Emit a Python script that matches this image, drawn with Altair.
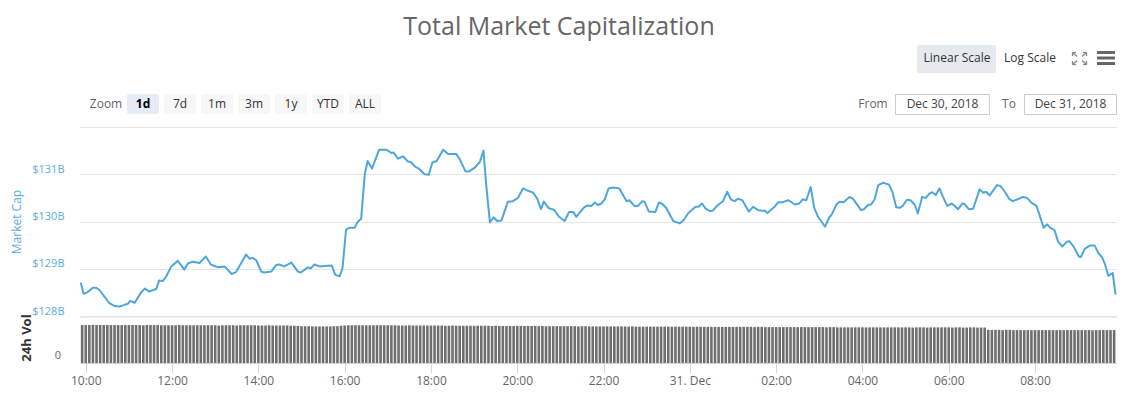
import altair as alt
import pandas as pd

# ---------------- data ----------------
TITLE = "Total Market Capitalization"

LINE_TIME = [
    "2018-12-30T09:53", "2018-12-30T09:57", "2018-12-30T10:02", "2018-12-30T10:10", "2018-12-30T10:14",
    "2018-12-30T10:19", "2018-12-30T10:26", "2018-12-30T10:33", "2018-12-30T10:40", "2018-12-30T10:47",
    "2018-12-30T10:51", "2018-12-30T10:56", "2018-12-30T10:58", "2018-12-30T11:02", "2018-12-30T11:08",
    "2018-12-30T11:17", "2018-12-30T11:22", "2018-12-30T11:28", "2018-12-30T11:38", "2018-12-30T11:42",
    "2018-12-30T11:47", "2018-12-30T11:52", "2018-12-30T11:59", "2018-12-30T12:08", "2018-12-30T12:17",
    "2018-12-30T12:22", "2018-12-30T12:29", "2018-12-30T12:38", "2018-12-30T12:47", "2018-12-30T12:54",
    "2018-12-30T13:04", "2018-12-30T13:13", "2018-12-30T13:23", "2018-12-30T13:29", "2018-12-30T13:43",
    "2018-12-30T13:48", "2018-12-30T13:52", "2018-12-30T13:57", "2018-12-30T14:04", "2018-12-30T14:08",
    "2018-12-30T14:18", "2018-12-30T14:25", "2018-12-30T14:29", "2018-12-30T14:36", "2018-12-30T14:46",
    "2018-12-30T14:55", "2018-12-30T14:59", "2018-12-30T15:09", "2018-12-30T15:13", "2018-12-30T15:18",
    "2018-12-30T15:25", "2018-12-30T15:32", "2018-12-30T15:42", "2018-12-30T15:47", "2018-12-30T15:53",
    "2018-12-30T15:57", "2018-12-30T16:02", "2018-12-30T16:07", "2018-12-30T16:14", "2018-12-30T16:18",
    "2018-12-30T16:23", "2018-12-30T16:28", "2018-12-30T16:32", "2018-12-30T16:38", "2018-12-30T16:48",
    "2018-12-30T16:58", "2018-12-30T17:05", "2018-12-30T17:08", "2018-12-30T17:14", "2018-12-30T17:21",
    "2018-12-30T17:28", "2018-12-30T17:32", "2018-12-30T17:38", "2018-12-30T17:43", "2018-12-30T17:51",
    "2018-12-30T17:57", "2018-12-30T18:02", "2018-12-30T18:08", "2018-12-30T18:17", "2018-12-30T18:24",
    "2018-12-30T18:35", "2018-12-30T18:40", "2018-12-30T18:48", "2018-12-30T18:53", "2018-12-30T19:01",
    "2018-12-30T19:08", "2018-12-30T19:13", "2018-12-30T19:17", "2018-12-30T19:22", "2018-12-30T19:27",
    "2018-12-30T19:32", "2018-12-30T19:38", "2018-12-30T19:47", "2018-12-30T19:54", "2018-12-30T20:01",
    "2018-12-30T20:08", "2018-12-30T20:15", "2018-12-30T20:22", "2018-12-30T20:28", "2018-12-30T20:33",
    "2018-12-30T20:37", "2018-12-30T20:44", "2018-12-30T20:51", "2018-12-30T20:58", "2018-12-30T21:06",
    "2018-12-30T21:12", "2018-12-30T21:18", "2018-12-30T21:22", "2018-12-30T21:33", "2018-12-30T21:38",
    "2018-12-30T21:43", "2018-12-30T21:48", "2018-12-30T21:52", "2018-12-30T21:57", "2018-12-30T22:02",
    "2018-12-30T22:07", "2018-12-30T22:13", "2018-12-30T22:22", "2018-12-30T22:32", "2018-12-30T22:36",
    "2018-12-30T22:43", "2018-12-30T22:48", "2018-12-30T22:54", "2018-12-30T22:57", "2018-12-30T23:03",
    "2018-12-30T23:12", "2018-12-30T23:17", "2018-12-30T23:21", "2018-12-30T23:27", "2018-12-30T23:37",
    "2018-12-30T23:46", "2018-12-30T23:51", "2018-12-30T23:58", "2018-12-31T00:08", "2018-12-31T00:12",
    "2018-12-31T00:17", "2018-12-31T00:22", "2018-12-31T00:28", "2018-12-31T00:32", "2018-12-31T00:39",
    "2018-12-31T00:46", "2018-12-31T00:52", "2018-12-31T00:57", "2018-12-31T01:02", "2018-12-31T01:07",
    "2018-12-31T01:13", "2018-12-31T01:22", "2018-12-31T01:28", "2018-12-31T01:35", "2018-12-31T01:40",
    "2018-12-31T01:44", "2018-12-31T01:48", "2018-12-31T01:51", "2018-12-31T01:57", "2018-12-31T02:03",
    "2018-12-31T02:07", "2018-12-31T02:17", "2018-12-31T02:26", "2018-12-31T02:32", "2018-12-31T02:37",
    "2018-12-31T02:42", "2018-12-31T02:48", "2018-12-31T02:53", "2018-12-31T02:58", "2018-12-31T03:08",
    "2018-12-31T03:14", "2018-12-31T03:17", "2018-12-31T03:24", "2018-12-31T03:28", "2018-12-31T03:34",
    "2018-12-31T03:42", "2018-12-31T03:47", "2018-12-31T03:58", "2018-12-31T04:02", "2018-12-31T04:08",
    "2018-12-31T04:12", "2018-12-31T04:17", "2018-12-31T04:22", "2018-12-31T04:29", "2018-12-31T04:37",
    "2018-12-31T04:42", "2018-12-31T04:47", "2018-12-31T04:52", "2018-12-31T04:56", "2018-12-31T05:02",
    "2018-12-31T05:07", "2018-12-31T05:13", "2018-12-31T05:17", "2018-12-31T05:23", "2018-12-31T05:28",
    "2018-12-31T05:33", "2018-12-31T05:37", "2018-12-31T05:42", "2018-12-31T05:47", "2018-12-31T05:52",
    "2018-12-31T05:58", "2018-12-31T06:04", "2018-12-31T06:07", "2018-12-31T06:13", "2018-12-31T06:19",
    "2018-12-31T06:22", "2018-12-31T06:28", "2018-12-31T06:34", "2018-12-31T06:43", "2018-12-31T06:48",
    "2018-12-31T06:52", "2018-12-31T06:57", "2018-12-31T07:07", "2018-12-31T07:12", "2018-12-31T07:18",
    "2018-12-31T07:24", "2018-12-31T07:29", "2018-12-31T07:36", "2018-12-31T07:43", "2018-12-31T07:49",
    "2018-12-31T07:55", "2018-12-31T08:02", "2018-12-31T08:06", "2018-12-31T08:12", "2018-12-31T08:17",
    "2018-12-31T08:21", "2018-12-31T08:27", "2018-12-31T08:32", "2018-12-31T08:38", "2018-12-31T08:44",
    "2018-12-31T08:48", "2018-12-31T08:54", "2018-12-31T09:01", "2018-12-31T09:04", "2018-12-31T09:09",
    "2018-12-31T09:16", "2018-12-31T09:23", "2018-12-31T09:28", "2018-12-31T09:33", "2018-12-31T09:37",
    "2018-12-31T09:42", "2018-12-31T09:48", "2018-12-31T09:52",
]

# total market cap, billions of USD
LINE_CAP = [
    128.71, 128.47, 128.50, 128.60, 128.60, 128.55, 128.41, 128.27, 128.21, 128.20,
    128.22, 128.25, 128.25, 128.32, 128.28, 128.50, 128.58, 128.52, 128.57, 128.75,
    128.74, 128.84, 129.05, 129.17, 128.98, 129.11, 129.15, 129.12, 129.26, 129.09,
    129.03, 129.05, 128.89, 128.93, 129.30, 129.21, 129.23, 129.18, 128.94, 128.92,
    128.94, 129.08, 129.09, 129.05, 129.13, 128.94, 128.92, 129.03, 129.01, 129.09,
    129.05, 129.06, 129.07, 128.87, 128.84, 129.01, 129.83, 129.87, 129.87, 129.99,
    130.06, 131.00, 131.28, 131.12, 131.52, 131.52, 131.45, 131.46, 131.33, 131.38,
    131.27, 131.26, 131.16, 131.12, 131.00, 130.99, 131.25, 131.28, 131.52, 131.43,
    131.43, 131.32, 131.06, 131.06, 131.14, 131.26, 131.50, 130.75, 129.98, 130.09,
    130.01, 130.02, 130.42, 130.43, 130.50, 130.70, 130.65, 130.61, 130.48, 130.26,
    130.42, 130.28, 130.25, 130.10, 130.01, 130.20, 130.20, 130.10, 130.30, 130.34,
    130.33, 130.40, 130.35, 130.38, 130.48, 130.70, 130.72, 130.70, 130.43, 130.45,
    130.33, 130.33, 130.43, 130.42, 130.21, 130.20, 130.40, 130.38, 130.29, 130.01,
    129.96, 130.02, 130.18, 130.31, 130.31, 130.38, 130.27, 130.22, 130.23, 130.35,
    130.43, 130.63, 130.47, 130.43, 130.48, 130.45, 130.21, 130.31, 130.24, 130.23,
    130.23, 130.18, 130.22, 130.30, 130.41, 130.40, 130.45, 130.36, 130.38, 130.47,
    130.45, 130.73, 130.29, 130.11, 129.89, 130.09, 130.14, 130.36, 130.42, 130.41,
    130.52, 130.48, 130.24, 130.26, 130.35, 130.36, 130.47, 130.77, 130.82, 130.78,
    130.61, 130.30, 130.29, 130.33, 130.46, 130.45, 130.35, 130.17, 130.52, 130.50,
    130.59, 130.62, 130.56, 130.70, 130.52, 130.33, 130.38, 130.35, 130.26, 130.38,
    130.37, 130.26, 130.27, 130.68, 130.61, 130.63, 130.55, 130.77, 130.75, 130.63,
    130.48, 130.43, 130.47, 130.52, 130.50, 130.40, 130.33, 130.15, 129.87, 129.94,
    129.87, 129.82, 129.58, 129.47, 129.57, 129.58, 129.46, 129.26, 129.25, 129.42,
    129.49, 129.49, 129.33, 129.25, 129.11, 128.85, 128.91, 128.45,
]

# 24h volume bars, one every 5 minutes from 09:55 (billions, relative)
VOL_START = "2018-12-30T09:55"
VOL_24H = [
    16.5, 16.5, 16.5, 16.6, 16.5, 16.5, 16.5, 16.5, 16.5, 16.5, 16.5, 16.5,
    16.5, 16.5, 16.5, 16.5, 16.5, 16.4, 16.5, 16.5, 16.5, 16.5, 16.4, 16.4,
    16.4, 16.4, 16.4, 16.5, 16.4, 16.4, 16.4, 16.4, 16.4, 16.4, 16.4, 16.4,
    16.4, 16.4, 16.3, 16.4, 16.4, 16.4, 16.4, 16.3, 16.4, 16.4, 16.4, 16.4,
    16.4, 16.3, 16.3, 16.3, 16.4, 16.3, 16.3, 16.3, 16.3, 16.3, 16.2, 16.2,
    16.1, 16.0, 16.0, 16.0, 15.9, 15.9, 15.9, 15.9, 15.9, 15.9, 16.0, 16.0,
    16.2, 16.3, 16.4, 16.4, 16.4, 16.4, 16.4, 16.4, 16.4, 16.4, 16.4, 16.4,
    16.4, 16.4, 16.4, 16.4, 16.3, 16.3, 16.3, 16.4, 16.3, 16.3, 16.3, 16.3,
    16.3, 16.3, 16.3, 16.3, 16.3, 16.2, 16.2, 16.3, 16.2, 16.2, 16.2, 16.2,
    16.2, 16.2, 16.2, 16.2, 16.2, 16.2, 16.1, 16.2, 16.1, 16.1, 16.1, 16.1,
    16.1, 16.1, 16.1, 16.1, 16.1, 16.1, 16.1, 16.0, 16.1, 16.0, 16.0, 16.0,
    16.0, 16.0, 16.0, 16.0, 16.0, 16.0, 15.9, 16.0, 16.0, 15.9, 15.9, 15.9,
    15.9, 15.9, 15.9, 15.9, 15.9, 15.9, 15.9, 15.9, 15.8, 15.9, 15.8, 15.8,
    15.8, 15.8, 15.8, 15.8, 15.8, 15.8, 15.8, 15.8, 15.8, 15.8, 15.8, 15.8,
    15.8, 15.8, 15.7, 15.8, 15.7, 15.7, 15.7, 15.7, 15.7, 15.7, 15.7, 15.7,
    15.7, 15.7, 15.7, 15.7, 15.7, 15.7, 15.7, 15.6, 15.7, 15.7, 15.6, 15.6,
    15.6, 15.6, 15.6, 15.6, 15.6, 15.6, 15.6, 15.6, 15.6, 15.6, 15.6, 15.6,
    15.6, 15.6, 15.6, 15.5, 15.6, 15.6, 15.5, 15.5, 15.5, 15.5, 15.5, 15.5,
    15.5, 15.5, 15.5, 15.5, 15.5, 15.5, 15.5, 15.5, 15.5, 15.5, 15.5, 15.5,
    15.5, 15.5, 15.5, 15.4, 15.5, 15.5, 15.5, 15.4, 15.5, 15.5, 15.5, 15.5,
    15.5, 15.5, 15.4, 15.5, 15.5, 15.4, 15.4, 15.5, 15.5, 15.4, 15.4, 15.4,
    14.4, 14.4, 14.4, 14.4, 14.3, 14.4, 14.4, 14.3, 14.3, 14.3, 14.3, 14.3,
    14.3, 14.3, 14.3, 14.3, 14.3, 14.3, 14.3, 14.3, 14.3, 14.3, 14.3, 14.3,
    14.3, 14.3, 14.3, 14.3, 14.3, 14.2, 14.3, 14.3, 14.3, 14.3, 14.3, 14.3,
]

X_TICKS = [
    "2018-12-30T10:00", "2018-12-30T12:00", "2018-12-30T14:00", "2018-12-30T16:00",
    "2018-12-30T18:00", "2018-12-30T20:00", "2018-12-30T22:00", "2018-12-31T00:00",
    "2018-12-31T02:00", "2018-12-31T04:00", "2018-12-31T06:00", "2018-12-31T08:00",
]
X_DOMAIN = ["2018-12-30T09:52", "2018-12-31T09:54"]
Y_TICKS = [128, 129, 130, 131, 132]
Y_DOMAIN = [128, 132]
VOL_DOMAIN = [0, 20]

ZOOM_LABEL = "Zoom"
ZOOM_BUTTONS = ["1d", "7d", "1m", "3m", "1y", "YTD", "ALL"]
SCALE_BUTTONS = ["Linear Scale", "Log Scale"]
FROM_LABEL, TO_LABEL = "From", "To"
FROM_DATE, TO_DATE = "Dec 30, 2018", "Dec 31, 2018"
Y_TITLE = "Market Cap"
VOL_TITLE = "24h Vol"

# ---------------- styling / layout ----------------
FONT = "Open Sans"
BLUE_LINE = "#4ea6db"
BLUE_TEXT = "#5aabdf"
GRID = "#e6e6e6"
W, H = 1037, 236
PAD = {"left": 72, "top": 119, "right": 0, "bottom": 25}
PRICE_RANGE = [189, 0]
VOL_RANGE = [236, 190]


def dt(s):
    t = pd.Timestamp(s)
    return alt.DateTime(year=t.year, month=t.month, date=t.day, hours=t.hour, minutes=t.minute)


line_df = pd.DataFrame({"t": LINE_TIME, "cap": LINE_CAP})
vol_df = pd.DataFrame({
    "t": pd.date_range(VOL_START, periods=len(VOL_24H), freq="5min").strftime("%Y-%m-%dT%H:%M:%S"),
    "vol": VOL_24H,
})

xscale = alt.Scale(domain=[dt(s) for s in X_DOMAIN], padding=0)
xaxis = alt.Axis(
    values=[dt(s) for s in X_TICKS],
    labelExpr="hours(datum.value) == 0 ? timeFormat(datum.value, '%d. %b') : timeFormat(datum.value, '%H:%M')",
    title=None, grid=False, domainColor="#ccd6eb", tickColor="#ccd6eb", tickSize=10,
    labelColor="#666666", labelFont=FONT, labelFontSize=12, labelPadding=2,
    labelFlush=False, labelOverlap=False,
)

price = alt.Chart(line_df).mark_line(color=BLUE_LINE, strokeWidth=2, strokeJoin="round").encode(
    x=alt.X("t:T", scale=xscale, axis=xaxis),
    y=alt.Y(
        "cap:Q",
        scale=alt.Scale(domain=Y_DOMAIN, range=PRICE_RANGE, zero=False, nice=False),
        axis=alt.Axis(
            values=Y_TICKS,
            labelExpr="datum.value >= 132 ? '' : '$' + datum.value + 'B'",
            grid=True, gridColor=GRID, domain=False, ticks=False,
            labelColor=BLUE_TEXT, labelFont=FONT, labelFontSize=11, labelPadding=16,
            labelBaseline="alphabetic", labelOffset=-2, labelFlush=False, labelOverlap=False,
            title=Y_TITLE, titleColor=BLUE_TEXT, titleFont=FONT, titleFontSize=12,
            titleFontWeight="normal", titleX=-64, titleY=94.5, titleAngle=270,
            titleAlign="center", titleBaseline="middle",
        ),
    ),
)

vol = alt.Chart(vol_df).mark_bar(size=2.6, color="#6e6e6e").encode(
    x=alt.X("t:T", scale=xscale),
    y=alt.Y("vol:Q", scale=alt.Scale(domain=VOL_DOMAIN, range=VOL_RANGE, nice=False), axis=None),
)

one = pd.DataFrame({"k": [0]})


def text(s, x, y, size=12, color="#333333", weight="normal", align="center", angle=0, baseline="middle"):
    return alt.Chart(one).mark_text(
        text=s, font=FONT, fontSize=size, color=color, fontWeight=weight,
        align=align, baseline=baseline, angle=angle,
    ).encode(x=alt.value(x), y=alt.value(y))


def rect(x0, x1, y0, y1, fill, stroke=None, radius=0):
    kw = dict(color=fill, cornerRadius=radius)
    if stroke:
        kw.update(stroke=stroke, strokeWidth=1)
    return alt.Chart(one).mark_rect(**kw).encode(
        x=alt.value(x0), x2=alt.value(x1), y=alt.value(y0), y2=alt.value(y1))


def seg(x0, y0, x1, y1, color, width):
    return alt.Chart(one).mark_rule(color=color, strokeWidth=width, strokeCap="butt").encode(
        x=alt.value(x0), x2=alt.value(x1), y=alt.value(y0), y2=alt.value(y1))


deco = []
# title
deco.append(text(TITLE, 479, -92, size=25, color="#666666", baseline="alphabetic"))
# linear / log scale buttons
deco.append(rect(837, 916, -82, -54, "#e6e9ee", radius=2))
deco.append(text(SCALE_BUTTONS[0], 877, -69))
deco.append(text(SCALE_BUTTONS[1], 950, -69))
# fullscreen icon
cx, cy = 999.5, -68.5
for sx, sy in [(-1, -1), (1, -1), (-1, 1), (1, 1)]:
    tx, ty = cx + 7 * sx, cy + 6 * sy
    deco.append(seg(cx + 2.5 * sx, cy + 2 * sy, tx, ty, "#888888", 1.3))
    deco.append(seg(tx, ty, tx - 3.5 * sx, ty, "#888888", 1.3))
    deco.append(seg(tx, ty, tx, ty - 3.5 * sy, "#888888", 1.3))
# hamburger menu
for yy in [-74.5, -69, -63.5]:
    deco.append(seg(1017, yy, 1035, yy, "#666666", 3))
# zoom row
deco.append(text(ZOOM_LABEL, 26, -23, color="#666666"))
for i, lab in enumerate(ZOOM_BUTTONS):
    x0 = 47 + 37 * i
    sel = i == 0
    deco.append(rect(x0, x0 + 32, -33, -13, "#e6ebf5" if sel else "#f7f7f7", radius=2))
    deco.append(text(lab, x0 + 16, -23, color="#000000" if sel else "#333333",
                     weight="bold" if sel else "normal"))
# from / to
deco.append(text(FROM_LABEL, 793, -23, color="#666666"))
deco.append(rect(815.5, 909.5, -32.5, -12.5, "#ffffff", stroke="#cccccc"))
deco.append(text(FROM_DATE, 862.5, -23, color="#444444"))
deco.append(text(TO_LABEL, 929, -23, color="#666666"))
deco.append(rect(944.5, 1036.5, -32.5, -12.5, "#ffffff", stroke="#cccccc"))
deco.append(text(TO_DATE, 990.5, -23, color="#444444"))
# volume panel top line, label and title
deco.append(seg(0, 190, W, 190, GRID, 1.5))
deco.append(text("0", -19, 229, size=11, color="#666666", align="right"))
deco.append(text(VOL_TITLE, -53, 211, size=13, color="#333333", weight="bold", angle=270))

chart = alt.layer(price, vol, *deco).resolve_scale(y="independent").properties(
    width=W, height=H,
    autosize=alt.AutoSizeParams(type="none"),
    padding=PAD,
).configure_view(stroke=None)

chart.save("out.html", embed_options={"renderer": "svg", "actions": False})
